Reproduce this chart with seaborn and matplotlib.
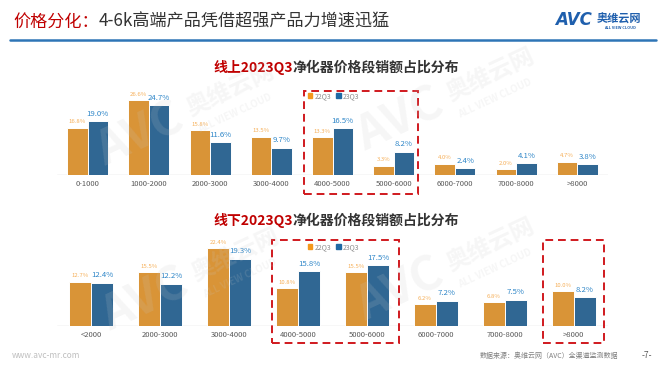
import matplotlib

matplotlib.use("Agg")
import matplotlib.pyplot as plt
import matplotlib.transforms as mtransforms
import pandas as pd
import seaborn as sns
from matplotlib.patches import Rectangle

W, H = 666, 371

ONLINE_BANDS = ["0-1000", "1000-2000", "2000-3000", "3000-4000", "4000-5000",
                "5000-6000", "6000-7000", "7000-8000", ">8000"]
ONLINE_22Q3 = [16.8, 26.6, 15.8, 13.5, 13.3, 3.3, 4.0, 2.0, 4.7]
ONLINE_23Q3 = [19.0, 24.7, 11.6, 9.7, 16.5, 8.2, 2.4, 4.1, 3.8]

OFFLINE_BANDS = ["<2000", "2000-3000", "3000-4000", "4000-5000",
                 "5000-6000", "6000-7000", "7000-8000", ">8000"]
OFFLINE_22Q3 = [12.7, 15.5, 22.4, 10.8, 15.5, 6.2, 6.8, 10.0]
OFFLINE_23Q3 = [12.4, 12.2, 19.3, 15.8, 17.5, 7.2, 7.5, 8.2]

PERIODS = ["22Q3", "23Q3"]
ORANGE = "#F4981C"
BLUE = "#1F69A4"
RED = "#C00000"
DARK = "#333333"
GRAY = "#595959"


def fx(x):
    return x / W


def fy(y):
    return 1 - y / H


def to_long(bands, a, b):
    return pd.DataFrame({
        "band": bands * 2,
        "share": a + b,
        "period": [PERIODS[0]] * len(bands) + [PERIODS[1]] * len(bands),
    })


def draw_panel(ax, df, n, ytop, width):
    sns.barplot(data=df, x="band", y="share", hue="period", palette=[ORANGE, BLUE],
                width=width, edgecolor="white", linewidth=0.7, ax=ax, legend=False)
    ax.set_xlim(-0.5, n - 0.5)
    ax.set_ylim(0, ytop)
    ax.set_xlabel("")
    ax.set_ylabel("")
    ax.set_yticks([])
    for s in ax.spines.values():
        s.set_visible(False)
    ax.axhline(0, color="#D9D9D9", lw=1.0, zorder=0)
    ax.tick_params(axis="x", length=0, pad=3.5, labelsize=5.5, labelcolor=GRAY)
    ax.bar_label(ax.containers[0], fmt="{:.1f}%", padding=2.5, fontsize=4.3, color="#F6B05A")
    ax.bar_label(ax.containers[1], fmt="{:.1f}%", padding=2.5, fontsize=5.6, color="#2E86C8")


def legend_at(ax, x, y):
    handles = [Rectangle((0, 0), 1, 1, color=ORANGE), Rectangle((0, 0), 1, 1, color=BLUE)]
    ax.legend(handles, PERIODS, ncol=2, frameon=False, loc="center left",
              bbox_to_anchor=(fx(x), fy(y)), bbox_transform=ax.figure.transFigure,
              handlelength=0.6, handleheight=0.6, columnspacing=0.8, handletextpad=0.3,
              borderpad=0, borderaxespad=0, labelcolor="#8C8C8C", prop={"size": 5})


def dashed_box(ax, x0, x1, y0, y1):
    trans = mtransforms.blended_transform_factory(ax.transData, ax.transAxes)
    ax.add_patch(Rectangle((x0, y0), x1 - x0, y1 - y0, transform=trans, fill=False,
                           ec="#D0191E", lw=1.4, ls=(0, (4, 2.5)), clip_on=False, zorder=5))


def two_tone(fig, x, y, red_part, rest, size, weight):
    t1 = fig.text(fx(x), fy(y), red_part, color=RED, fontsize=size, fontweight=weight,
                  va="baseline", ha="left")
    r = fig.canvas.get_renderer()
    x1 = t1.get_window_extent(r).x1
    fig.text(x1 / fig.bbox.width, fy(y), rest, color=DARK, fontsize=size, fontweight=weight,
             va="baseline", ha="left")


def watermark(fig, x, y):
    kw = dict(color="#C8C8C8", alpha=0.16, rotation=25, ha="center", va="center", zorder=20)
    fig.text(fx(x), fy(y), "AVC", fontsize=34, fontweight="bold", style="italic", **kw)
    fig.text(fx(x + 90), fy(y - 45), "奥维云网", fontsize=17, fontweight="bold", **kw)
    fig.text(fx(x + 95), fy(y - 22), "ALL VIEW CLOUD", fontsize=7, fontweight="bold", **kw)


sns.set_theme(style="white")
plt.rcParams["font.family"] = ["Noto Sans CJK SC", "DejaVu Sans"]

fig = plt.figure(figsize=(W / 100, H / 100), dpi=100)
fig.patch.set_facecolor("white")

ax_top = fig.add_axes([fx(57), fy(175), fx(551), 95 / H])
ax_bot = fig.add_axes([fx(57), fy(326), fx(551), 96 / H])

draw_panel(ax_top, to_long(ONLINE_BANDS, ONLINE_22Q3, ONLINE_23Q3), len(ONLINE_BANDS), 95 / 2.82, 0.67)
draw_panel(ax_bot, to_long(OFFLINE_BANDS, OFFLINE_22Q3, OFFLINE_23Q3), len(OFFLINE_BANDS), 96 / 3.48, 0.64)

legend_at(ax_top, 308, 96)
legend_at(ax_bot, 308, 247)

dashed_box(ax_top, 3.53, 5.39, -0.2, 0.884)
dashed_box(ax_bot, 2.62, 4.47, -0.177, 0.896)
dashed_box(ax_bot, 6.55, 7.44, -0.177, 0.896)

# header
two_tone(fig, 13, 27, "价格分化：", "4-6k高端产品凭借超强产品力增速迅猛", 12.3, "normal")
fig.add_artist(plt.Line2D([fx(10), fx(656)], [fy(40), fy(40)], color="#2E75B6", lw=1.8))
fig.text(fx(555), fy(20), "AVC", color="#1F5FAD", fontsize=12, fontweight="bold",
         style="italic", va="center", ha="left", family="DejaVu Sans")
fig.text(fx(597), fy(19), "奥维云网", color="#1F5FAD", fontsize=8, fontweight="bold",
         va="center", ha="left")
fig.text(fx(620), fy(28), "ALL VIEW CLOUD", color="#1F5FAD", fontsize=2.8,
         fontweight="bold", va="center", ha="center")

# panel titles
two_tone(fig, 213, 72, "线上2023Q3", "净化器价格段销额占比分布", 10, "bold")
two_tone(fig, 213, 225, "线下2023Q3", "净化器价格段销额占比分布", 10, "bold")

# footer
fig.text(fx(12), fy(356), "www.avc-mr.com", color="#BFBFBF", fontsize=6, va="center")
fig.text(fx(480), fy(356), "数据来源：奥维云网（AVC）全渠道监测数据", color="#7F7F7F",
         fontsize=5, va="center")
fig.text(fx(647), fy(356), "-7-", color="#595959", fontsize=6, va="center", ha="center")

watermark(fig, 140, 135)
watermark(fig, 400, 120)
watermark(fig, 145, 300)
watermark(fig, 400, 290)

fig.savefig("out.png", dpi=100)
